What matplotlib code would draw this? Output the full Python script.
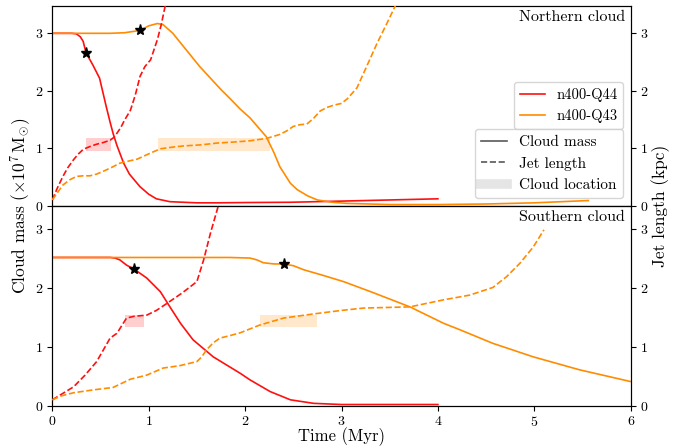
import matplotlib
matplotlib.use('Agg')
import matplotlib.pyplot as plt
from matplotlib.lines import Line2D
import numpy as np

plt.rcParams['font.family'] = 'serif'
plt.rcParams['font.serif'] = ['cmr10']
plt.rcParams['mathtext.fontset'] = 'cm'
plt.rcParams['axes.formatter.use_mathtext'] = True
plt.rcParams['axes.unicode_minus'] = False

# ---- Northern cloud ----
n_q44_mass_t = [0, 0.1, 0.2, 0.25, 0.29, 0.32, 0.35, 0.42, 0.49, 0.56, 0.60, 0.63, 0.67, 0.74,
                0.80, 0.91, 1.0, 1.08, 1.22, 1.5, 1.71, 2.0, 2.47, 3.0, 3.5, 4.0]
n_q44_mass = [3.0, 3.0, 3.0, 2.99, 2.94, 2.86, 2.66, 2.45, 2.22, 1.72, 1.45, 1.26, 1.05, 0.74,
              0.55, 0.33, 0.2, 0.12, 0.07, 0.05, 0.05, 0.055, 0.06, 0.08, 0.10, 0.12]

n_q43_mass_t = [0, 0.3, 0.6, 0.75, 0.91, 1.0, 1.09, 1.15, 1.25, 1.39, 1.53, 1.75, 1.84, 1.95, 2.05,
                2.22, 2.3, 2.36, 2.47, 2.54, 2.65, 2.75, 2.9, 3.06, 3.5, 4.0, 4.5, 5.0, 5.56]
n_q43_mass = [3.0, 3.0, 3.0, 3.01, 3.05, 3.13, 3.17, 3.15, 3.0, 2.71, 2.42, 2.02, 1.87, 1.68, 1.53,
              1.2, 0.92, 0.68, 0.39, 0.28, 0.17, 0.1, 0.06, 0.04, 0.02, 0.02, 0.03, 0.05, 0.09]

n_q44_jet_t = [0, 0.05, 0.11, 0.16, 0.22, 0.27, 0.32, 0.39, 0.46, 0.53, 0.60, 0.64, 0.67, 0.71,
               0.75, 0.81, 0.86, 0.91, 0.96, 1.02, 1.09, 1.13, 1.17, 1.2]
n_q44_jet = [0.1, 0.3, 0.51, 0.66, 0.8, 0.9, 0.98, 1.03, 1.07, 1.1, 1.14, 1.19, 1.26, 1.36,
             1.49, 1.66, 1.92, 2.25, 2.42, 2.54, 2.89, 3.15, 3.47, 3.7]

n_q43_jet_t = [0, 0.05, 0.11, 0.18, 0.25, 0.32, 0.39, 0.46, 0.53, 0.62, 0.70, 0.80, 0.88, 1.01,
               1.12, 1.25, 1.36, 1.55, 1.71, 1.90, 2.05, 2.22, 2.36, 2.43, 2.50, 2.57, 2.64,
               2.71, 2.78, 2.85, 2.92, 3.00, 3.06, 3.16, 3.26, 3.37, 3.47, 3.57, 3.62]
n_q43_jet = [0.1, 0.22, 0.36, 0.45, 0.51, 0.52, 0.52, 0.55, 0.60, 0.67, 0.74, 0.78, 0.81, 0.91,
             0.99, 1.02, 1.04, 1.06, 1.09, 1.11, 1.13, 1.17, 1.24, 1.30, 1.38, 1.41, 1.42,
             1.52, 1.65, 1.71, 1.75, 1.78, 1.86, 2.05, 2.42, 2.83, 3.17, 3.52, 3.7]

# ---- Southern cloud ----
s_q44_mass_t = [0, 0.3, 0.6, 0.65, 0.70, 0.77, 0.85, 0.98, 1.12, 1.22, 1.33, 1.46, 1.67, 1.84,
                1.95, 2.05, 2.26, 2.47, 2.71, 3.0, 3.5, 4.0]
s_q44_mass = [2.52, 2.52, 2.52, 2.51, 2.48, 2.39, 2.32, 2.17, 1.94, 1.68, 1.40, 1.12, 0.83, 0.66,
              0.55, 0.44, 0.24, 0.10, 0.04, 0.02, 0.02, 0.02]

s_q43_mass_t = [0, 1.0, 1.84, 2.05, 2.12, 2.19, 2.30, 2.40, 2.50, 2.61, 2.8, 3.02, 3.30, 3.71,
                4.06, 4.23, 4.57, 4.99, 5.47, 6.0]
s_q43_mass = [2.52, 2.52, 2.52, 2.51, 2.48, 2.43, 2.41, 2.41, 2.38, 2.31, 2.22, 2.11, 1.94, 1.68,
              1.40, 1.29, 1.06, 0.83, 0.61, 0.41]

s_q44_jet_t = [0, 0.1, 0.22, 0.34, 0.46, 0.53, 0.60, 0.67, 0.72, 0.77, 0.85, 0.98, 1.08, 1.19,
               1.35, 1.50, 1.57, 1.64, 1.71, 1.75]
s_q44_jet = [0.1, 0.2, 0.32, 0.52, 0.75, 0.95, 1.15, 1.23, 1.36, 1.49, 1.52, 1.54, 1.62, 1.74,
             1.92, 2.11, 2.48, 2.93, 3.33, 3.55]

s_q43_jet_t = [0, 0.1, 0.22, 0.43, 0.63, 0.72, 0.81, 0.98, 1.15, 1.32, 1.50, 1.55, 1.60, 1.67,
               1.74, 1.84, 1.95, 2.15, 2.40, 2.71, 3.0, 3.23, 3.71, 4.06, 4.33, 4.57, 4.71,
               4.85, 4.99, 5.10]
s_q43_jet = [0.1, 0.17, 0.22, 0.27, 0.31, 0.38, 0.45, 0.52, 0.64, 0.68, 0.75, 0.83, 0.95, 1.07,
             1.15, 1.19, 1.24, 1.37, 1.49, 1.56, 1.62, 1.66, 1.68, 1.80, 1.88, 2.01, 2.19,
             2.42, 2.70, 2.99]

# star = time of jet-cloud interaction, cloud location = (t0, t1, L0, L1)
n_star_t = {'Q44': 0.35, 'Q43': 0.91}
s_star_t = {'Q44': 0.85, 'Q43': 2.40}
n_loc = {'Q44': (0.35, 0.61, 0.96, 1.18), 'Q43': (1.10, 2.26, 0.96, 1.18)}
s_loc = {'Q44': (0.75, 0.95, 1.33, 1.54), 'Q43': (2.15, 2.75, 1.33, 1.54)}

c44 = '#ff1010'
c43 = '#ff8c00'
lw = 1.2

fig = plt.figure(figsize=(6.92, 4.47), dpi=100)
ax_n = fig.add_axes([0.0756, 0.5398, 0.8358, 0.4474])
ax_s = fig.add_axes([0.0756, 0.0924, 0.8358, 0.4474], sharex=ax_n)


def draw_panel(ax, mass, jets, stars, locs, ymax, title):
    axj = ax.twinx()
    for key, col in (('Q44', c44), ('Q43', c43)):
        t, m = mass[key]
        ax.plot(t, m, color=col, lw=lw, zorder=3)
        ts = stars[key]
        ax.plot(ts, np.interp(ts, t, m), marker='*', color='k', ms=8, ls='none', zorder=5)
        tj, lj = jets[key]
        axj.plot(tj, lj, color=col, lw=lw, ls='--', zorder=3)
        t0, t1, l0, l1 = locs[key]
        axj.fill_between([t0, t1], l0, l1, color=col, alpha=0.2, lw=0, zorder=1)
    for a in (ax, axj):
        a.set_ylim(0, ymax)
        a.set_yticks([0, 1, 2, 3])
        a.tick_params(labelsize=10, direction='out', pad=3)
    ax.set_xlim(0, 6)
    ax.text(0.99, 0.975, title, transform=ax.transAxes, ha='right', va='top', fontsize=11.5)
    return axj


axj_n = draw_panel(ax_n,
                   {'Q44': (n_q44_mass_t, n_q44_mass), 'Q43': (n_q43_mass_t, n_q43_mass)},
                   {'Q44': (n_q44_jet_t, n_q44_jet), 'Q43': (n_q43_jet_t, n_q43_jet)},
                   n_star_t, n_loc, 3.48, 'Northern cloud')
axj_s = draw_panel(ax_s,
                   {'Q44': (s_q44_mass_t, s_q44_mass), 'Q43': (s_q43_mass_t, s_q43_mass)},
                   {'Q44': (s_q44_jet_t, s_q44_jet), 'Q43': (s_q43_jet_t, s_q43_jet)},
                   s_star_t, s_loc, 3.40, 'Southern cloud')

ax_n.tick_params(axis='x', labelbottom=False, length=0)
ax_s.set_xticks([0, 1, 2, 3, 4, 5, 6])

fig.text(0.4935, 0.024, 'Time (Myr)', ha='center', va='center', fontsize=12)
fig.text(0.03, 0.54, r'Cloud mass ($\times10^7\,\mathrm{M}_{\odot}$)', rotation=90,
         ha='center', va='center', fontsize=12.5)
fig.text(0.955, 0.54, 'Jet length (kpc)', rotation=90, ha='center', va='center', fontsize=12.5)

# legends: simulations by colour, quantities by line style
sim_handles = [Line2D([], [], color=c44, lw=lw), Line2D([], [], color=c43, lw=lw)]
leg1 = axj_n.legend(sim_handles, ['n400-Q44', 'n400-Q43'], loc='center right',
                    fontsize=10.5, handlelength=1.7)
axj_n.add_artist(leg1)
qty_handles = [Line2D([], [], color='0.35', lw=lw),
               Line2D([], [], color='0.35', lw=lw, ls='--'),
               Line2D([], [], color='0.5', lw=7, alpha=0.2)]
axj_n.legend(qty_handles, ['Cloud mass', 'Jet length', 'Cloud location'],
             loc='lower right', fontsize=11, handlelength=1.7)

fig.savefig('out.png', dpi=100)
